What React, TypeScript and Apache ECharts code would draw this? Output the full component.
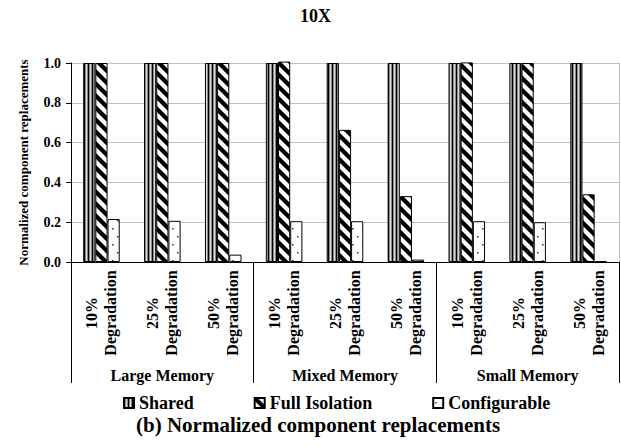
import React, { useEffect, useRef } from "react";
import * as echarts from "echarts";

const levels = ["10%", "25%", "50%"];
const groups = ["Large Memory", "Mixed Memory", "Small Memory"];
const seriesNames = ["Shared", "Full Isolation", "Configurable"];
const sharedVals = [1, 1, 1, 1, 1, 1, 1, 1, 1];
const fullIsoVals = [1, 1, 1, 1.007, 0.664, 0.331, 1.003, 1, 0.34];
const configVals = [0.216, 0.207, 0.037, 0.205, 0.205, 0.012, 0.205, 0.2, 0.003];
const yTicks = [0, 0.2, 0.4, 0.6, 0.8, 1.0];
const chartTitle = "10X";
const caption = "(b) Normalized component replacements";
const yName = "Normalized component replacements";

const FONT = "'Liberation Serif', 'Times New Roman', serif";

function makePattern(w: number, h: number, draw: (ctx: CanvasRenderingContext2D) => void) {
  const c = document.createElement("canvas");
  c.width = w;
  c.height = h;
  const ctx = c.getContext("2d")!;
  draw(ctx);
  return { image: c, repeat: "repeat", imageWidth: w, imageHeight: h } as any;
}

export default function App() {
  const ref = useRef<HTMLDivElement>(null);
  useEffect(() => {
    if (!ref.current) return;
    const chart = echarts.init(ref.current, undefined, { renderer: "svg" });

    const stripes = makePattern(4, 4, (ctx) => {
      const cols = ["#000000", "#888888", "#dddddd", "#888888"];
      cols.forEach((c, i) => {
        ctx.fillStyle = c;
        ctx.fillRect(i, 0, 1, 4);
      });
    });
    const diag = makePattern(12, 12, (ctx) => {
      ctx.fillStyle = "#ffffff";
      ctx.fillRect(0, 0, 12, 12);
      ctx.strokeStyle = "#000000";
      ctx.lineWidth = 4.2;
      for (const k of [-12, 0, 12]) {
        ctx.beginPath();
        ctx.moveTo(k - 2, -2);
        ctx.lineTo(k + 14, 14);
        ctx.stroke();
      }
    });
    const dots = makePattern(10, 16, (ctx) => {
      ctx.fillStyle = "#ffffff";
      ctx.fillRect(0, 0, 10, 16);
      ctx.fillStyle = "#333333";
      ctx.fillRect(2, 4, 1.5, 1.5);
      ctx.fillRect(7, 12, 1.5, 1.5);
    });

    const categories = groups.flatMap((g) => levels.map((l) => `${g}|${l}`));
    const patterns = [stripes, diag, dots];
    const values = [sharedVals, fullIsoVals, configVals];

    chart.setOption({
      animation: false,
      backgroundColor: "#ffffff",
      title: [
        {
          text: chartTitle,
          left: 295,
          top: 2,
          textStyle: { fontFamily: FONT, fontSize: 18, fontWeight: "bold", color: "#000" },
        },
        {
          text: caption,
          left: 131,
          top: 409,
          textStyle: { fontFamily: FONT, fontSize: 21, fontWeight: "bold", color: "#000" },
        },
      ],
      legend: {
        data: seriesNames,
        left: 123,
        top: 394,
        padding: 0,
        itemWidth: 10,
        itemHeight: 10,
        itemGap: 60,
        icon: "rect",
        textStyle: { fontFamily: FONT, fontSize: 18, fontWeight: "bold", color: "#000" },
      },
      grid: { left: 71, right: 2, top: 63, bottom: 185, containLabel: false },
      xAxis: [
        {
          type: "category",
          data: categories,
          axisLine: { show: true, lineStyle: { color: "#000", width: 1 } },
          axisTick: { show: false },
          axisLabel: {
            interval: 0,
            rotate: 90,
            align: "center",
            margin: 51,
            lineHeight: 19,
            fontFamily: FONT,
            fontSize: 16,
            fontWeight: "bold",
            color: "#000",
            formatter: (v: string) => `${v.split("|")[1]}\nDegradation`,
          },
        },
        {
          type: "category",
          data: groups,
          position: "bottom",
          axisLine: { show: false },
          axisTick: { show: true, length: 121, lineStyle: { color: "#000", width: 1 } },
          axisLabel: {
            margin: 105,
            fontFamily: FONT,
            fontSize: 16,
            fontWeight: "bold",
            color: "#000",
          },
          splitLine: { show: false },
        },
      ],
      yAxis: [
        {
          type: "value",
          min: 0,
          max: 1,
          interval: 0.2,
          name: yName,
          nameLocation: "middle",
          nameGap: 41,
          nameTextStyle: { fontFamily: FONT, fontSize: 13, fontWeight: "bold", color: "#000" },
          axisLine: { show: true, lineStyle: { color: "#000", width: 1 } },
          axisTick: { show: true, length: 5, lineStyle: { color: "#000" } },
          axisLabel: {
            margin: 10,
            fontFamily: FONT,
            fontSize: 14,
            fontWeight: "bold",
            color: "#000",
            formatter: (v: number) => (yTicks.includes(Math.round(v * 10) / 10) ? v.toFixed(1) : ""),
          },
          splitLine: { show: true, lineStyle: { color: "#c0c0c0", width: 1 } },
        },
        {
          type: "value",
          position: "right",
          min: 0,
          max: 1,
          interval: 0.2,
          axisLine: { show: true, lineStyle: { color: "#c0c0c0", width: 1 } },
          axisTick: { show: false },
          axisLabel: { show: false },
          splitLine: { show: false },
        },
      ],
      series: seriesNames.map((name, i) => ({
        name,
        type: "bar",
        data: values[i],
        xAxisIndex: 0,
        yAxisIndex: 0,
        barGap: "0%",
        barCategoryGap: "40%",
        clip: false,
        itemStyle: { color: patterns[i], borderColor: "#000", borderWidth: 1 },
      })),
    });
    return () => chart.dispose();
  }, []);
  return (
    <div
      ref={ref}
      style={{ position: "fixed", left: 0, top: 0, width: 621, height: 447, background: "#fff" }}
    />
  );
}
